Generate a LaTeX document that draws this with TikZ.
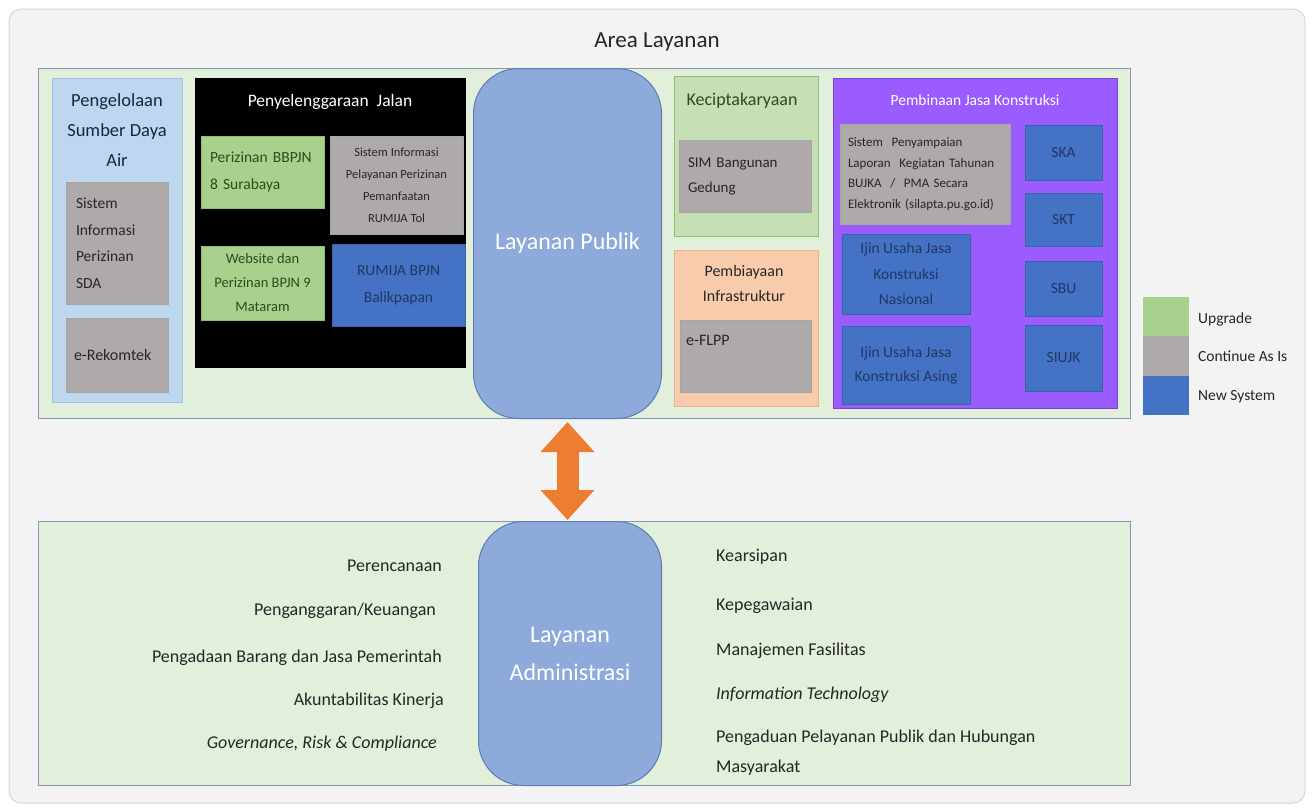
\documentclass[tikz,border=0pt]{standalone}
\usepackage{fontspec}
\setmainfont{Carlito}
\usetikzlibrary{arrows.meta}

\definecolor{framefill}{HTML}{F3F3F3}
\definecolor{frameline}{HTML}{D6D6D6}
\definecolor{panelfill}{HTML}{E2EFDA}
\definecolor{panelline}{HTML}{8497B0}
\definecolor{sdafill}{HTML}{BDD7EE}
\definecolor{sdaline}{HTML}{9DC3E6}
\definecolor{greyfill}{HTML}{AEAAAA}
\definecolor{greyline}{HTML}{A5A5A5}
\definecolor{greenfill}{HTML}{A9D18E}
\definecolor{greenline}{HTML}{8FBF70}
\definecolor{newblue}{HTML}{4472C4}
\definecolor{newblueline}{HTML}{3A62A8}
\definecolor{navytext}{HTML}{1F3864}
\definecolor{ciptafill}{HTML}{C5E0B4}
\definecolor{biayafill}{HTML}{F8CBAD}
\definecolor{biayaline}{HTML}{E8B48F}
\definecolor{jasafill}{HTML}{9B5CFF}
\definecolor{jasaline}{HTML}{7A45D0}
\definecolor{layfill}{HTML}{8EAADB}
\definecolor{layline}{HTML}{5B7DB5}
\definecolor{arroworange}{HTML}{ED7D31}
\definecolor{bodytext}{HTML}{262626}
\definecolor{greentext}{HTML}{2E4A1E}

\newcommand{\fs}[2]{\fontsize{#1}{#2}\selectfont}

\tikzset{
  box/.style={rectangle, anchor=north west, inner sep=0pt, outer sep=0pt,
    align=center, line width=0.8pt, text=bodytext},
  greybox/.style={box, fill=greyfill, draw=greyline},
  greenbox/.style={box, fill=greenfill, draw=greenline, text=greentext},
  bluebox/.style={box, fill=newblue, draw=newblueline, text=navytext},
  leftbox/.style={align=left, inner xsep=#1, text width=1pt},
  layanan/.style={rectangle, rounded corners=45pt, fill=layfill, draw=layline,
    line width=1pt, anchor=north west, inner sep=0pt, text=white, align=center},
  panel/.style={rectangle, anchor=north west, fill=panelfill, draw=panelline,
    line width=1.2pt, inner sep=0pt},
  txt/.style={inner sep=0pt, text=bodytext},
  legendbox/.style={rectangle, anchor=north west, inner sep=0pt,
    minimum width=46pt},
}

\begin{document}
\begin{tikzpicture}[x=1pt, y=-1pt]
  \useasboundingbox (0,0) rectangle (1313,807);
  \fill[white] (0,0) rectangle (1313,807);
  \draw[fill=framefill, draw=frameline, line width=1pt, rounded corners=12pt]
    (9,9) rectangle (1305,803);

  \node[txt, font=\fs{23}{28}] (title) at (657,42) {Area Layanan};

  % ---- public service panel ----
  \node[panel, minimum width=1092pt, minimum height=350pt] (top) at (38,68) {};

  % water resources
  \node[box, fill=sdafill, draw=sdaline, minimum width=130pt, minimum height=324pt] (sda) at (52,78) {};
  \node[txt, align=center, text=navytext!70!black, font=\fs{18.5}{30}] (sdatitle) at (117,130)
    {Pengelolaan\\Sumber Daya\\Air};
  \node[greybox, minimum width=102pt, minimum height=122pt, leftbox=10pt, text width=82pt,
    font=\fs{15.5}{26.5}] (sdasi) at (66,182) {Sistem\\Informasi\\Perizinan\\SDA};
  \node[greybox, minimum width=102pt, minimum height=74pt, leftbox=8pt, text width=86pt,
    font=\fs{16}{20}] (rekomtek) at (66,318) {e-Rekomtek};

  % roads
  \node[box, fill=black, minimum width=271pt, minimum height=290pt] (jalan) at (195,78) {};
  \node[txt, text=white, font=\fs{17.5}{22}] (jalantitle) at (330,102) {Penyelenggaraan\ \ Jalan};
  \node[greenbox, minimum width=123pt, minimum height=72pt, leftbox=9pt, text width=105pt,
    font=\fs{15.5}{27}] (bbpjn) at (201,136) {Perizinan BBPJN\\8 Surabaya};
  \node[greybox, minimum width=133pt, minimum height=98pt, font=\fs{12.5}{22}] (sipp) at (330,136)
    {Sistem Informasi\\Pelayanan Perizinan\\Pemanfaatan\\RUMIJA Tol};
  \node[greenbox, minimum width=123pt, minimum height=74pt, font=\fs{14.5}{24}] (bpjn9) at (201,246)
    {Website dan\\Perizinan BPJN 9\\Mataram};
  \node[bluebox, minimum width=133pt, minimum height=82pt, font=\fs{15.5}{27}] (rumija) at (332,244)
    {RUMIJA BPJN\\Balikpapan};

  % central public service
  \node[layanan, minimum width=188pt, minimum height=350pt, font=\fs{24}{30}] (publik) at (473,68)
    {Layanan Publik};

  % human settlements
  \node[box, fill=ciptafill, draw=greenline, minimum width=144pt, minimum height=160pt] (cipta) at (674,76) {};
  \node[txt, text=greentext, font=\fs{18}{22}] (ciptatitle) at (742,101) {Keciptakaryaan};
  \node[greybox, minimum width=132pt, minimum height=72pt, leftbox=9pt, text width=114pt,
    font=\fs{15}{25}] (simbg) at (679,140) {SIM Bangunan\\Gedung\\[-8pt]};

  % infrastructure financing
  \node[box, fill=biayafill, draw=biayaline, minimum width=144pt, minimum height=156pt] (biaya) at (674,250) {};
  \node[txt, align=center, font=\fs{16}{25}] (biayatitle) at (744,283.5) {Pembiayaan\\Infrastruktur};
  \node[greybox, minimum width=131pt, minimum height=72pt] (eflpp) at (680,320) {};
  \node[txt, anchor=west, font=\fs{16}{20}] (eflpptext) at (686,340) {e-FLPP};

  % construction services
  \node[box, fill=jasafill, draw=jasaline, minimum width=284pt, minimum height=330pt] (jasa) at (833,78) {};
  \node[txt, text=white, font=\fs{15.5}{20}] (jasatitle) at (975,100) {Pembinaan Jasa Konstruksi};
  \node[greybox, minimum width=170pt, minimum height=100pt, leftbox=8pt, text width=154pt,
    font=\fs{13}{20.7}] (silapta) at (840,124)
    {Sistem\ \ Penyampaian\\Laporan\ \ Kegiatan Tahunan\\BUJKA\ \ /\ \ PMA Secara\\Elektronik (silapta.pu.go.id)};
  \node[bluebox, minimum width=128pt, minimum height=80pt, font=\fs{15.5}{25.5}] (iujkn) at (842,234)
    {Ijin Usaha Jasa\\Konstruksi\\Nasional};
  \node[bluebox, minimum width=128pt, minimum height=78pt, font=\fs{15.5}{24}] (iujka) at (842,326)
    {Ijin Usaha Jasa\\Konstruksi Asing};
  \node[bluebox, minimum width=77pt, minimum height=55pt, font=\fs{15.5}{20}] (ska) at (1025,125) {SKA};
  \node[bluebox, minimum width=77pt, minimum height=53pt, font=\fs{15.5}{20}] (skt) at (1025,193) {SKT};
  \node[bluebox, minimum width=77pt, minimum height=55pt, font=\fs{15.5}{20}] (sbu) at (1025,261) {SBU};
  \node[bluebox, minimum width=77pt, minimum height=66pt, font=\fs{15.5}{20}] (siujk) at (1025,325) {SIUJK};

  % legend
  \node[legendbox, fill=greenfill, minimum height=40pt] (lgup) at (1143,297) {};
  \node[legendbox, fill=greyfill, minimum height=40pt] (lgcont) at (1143,336) {};
  \node[legendbox, fill=newblue, minimum height=39pt] (lgnew) at (1143,376) {};
  \node[txt, anchor=west, font=\fs{15.5}{20}] (lgupt) at (1198,319) {Upgrade};
  \node[txt, anchor=west, font=\fs{15.5}{20}] (lgcontt) at (1198,356) {Continue As Is};
  \node[txt, anchor=west, font=\fs{15.5}{20}] (lgnewt) at (1198,397) {New System};

  % ---- administration panel ----
  \node[panel, minimum width=1092pt, minimum height=264pt] (bottom) at (38,521) {};
  \node[layanan, minimum width=183pt, minimum height=264pt, font=\fs{24}{38}] (admin) at (478,521)
    {Layanan\\Administrasi};

  \node[txt, anchor=east, font=\fs{18}{22}] (a1) at (442,566) {Perencanaan};
  \node[txt, anchor=east, font=\fs{18}{22}] (a2) at (436,611) {Penganggaran/Keuangan};
  \node[txt, anchor=east, font=\fs{18}{22}] (a3) at (442,658) {Pengadaan\ Barang dan Jasa Pemerintah};
  \node[txt, anchor=east, font=\fs{18}{22}] (a4) at (444,701) {Akuntabilitas Kinerja};
  \node[txt, anchor=east, font=\fs{18}{22}\itshape] (a5) at (437,744) {Governance, Risk \& Compliance};

  \node[txt, anchor=west, font=\fs{18}{22}] (b1) at (716,557) {Kearsipan};
  \node[txt, anchor=west, font=\fs{18}{22}] (b2) at (716,606) {Kepegawaian};
  \node[txt, anchor=west, font=\fs{18}{22}] (b3) at (716,651) {Manajemen Fasilitas};
  \node[txt, anchor=west, font=\fs{18}{22}\itshape] (b4) at (716,695) {Information Technology};
  \node[txt, anchor=west, align=left, font=\fs{18}{30}] (b5) at (716,753)
    {Pengaduan\ Pelayanan Publik dan Hubungan\\Masyarakat};

  % link between the two service layers
  \draw[arroworange, line width=22pt,
    {Triangle[length=30pt,width=52pt]}-{Triangle[length=30pt,width=52pt]},
    shorten <=3pt, shorten >=1pt]
    (publik.south) -- (publik.south |- admin.north);
\end{tikzpicture}
\end{document}
